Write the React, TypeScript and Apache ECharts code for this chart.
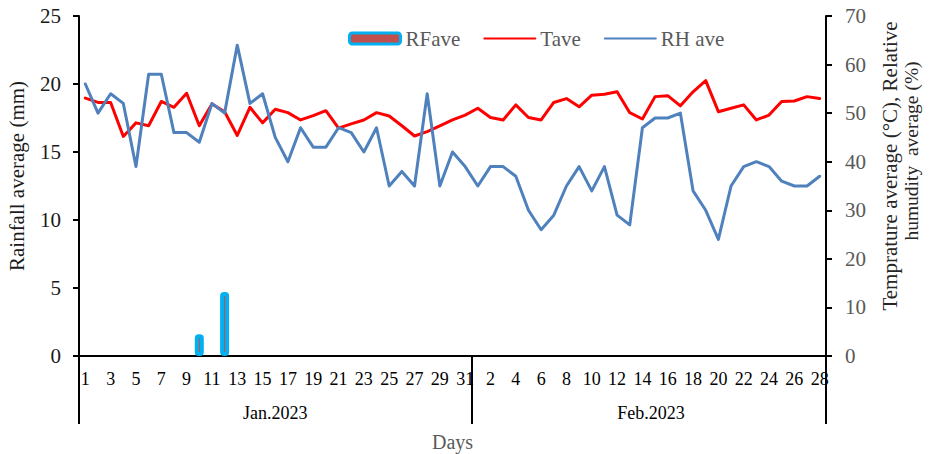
import React, { useEffect, useRef } from "react";
import * as echarts from "echarts";

const janDays = [1,2,3,4,5,6,7,8,9,10,11,12,13,14,15,16,17,18,19,20,21,22,23,24,25,26,27,28,29,30,31];
const febDays = [1,2,3,4,5,6,7,8,9,10,11,12,13,14,15,16,17,18,19,20,21,22,23,24,25,26,27,28];
const months = ["Jan.2023", "Feb.2023"];

const rainfall = [
  0,0,0,0,0,0,0,0,0,1.6,0,4.7,0,0,0,0,0,0,0,0,0,0,0,0,0,0,0,0,0,0,0,
  0,0,0,0,0,0,0,0,0,0,0,0,0,0,0,0,0,0,0,0,0,0,0,0,0,0,0,0,
];
const tave = [
  53.1,52.2,52.2,45.2,48.0,47.4,52.4,51.2,54.1,47.4,51.9,50.3,45.4,51.2,48.0,50.8,50.1,48.6,49.5,50.5,46.9,47.8,48.6,50.1,49.4,47.4,45.3,46.2,47.4,48.6,49.6,
  51.0,49.1,48.6,51.7,49.1,48.6,52.2,53.0,51.3,53.7,53.9,54.4,50.1,48.8,53.4,53.6,51.5,54.4,56.7,50.3,51.0,51.7,48.6,49.6,52.4,52.5,53.4,53.0,
];
const rhAve = [
  56,50,54,52,39,58,58,46,46,44,52,50,64,52,54,45,40,47,43,43,47,46,42,47,35,38,35,54,35,42,39,
  35,39,39,37,30,26,29,35,39,34,39,29,27,47,49,49,50,34,30,24,35,39,40,39,36,35,35,37,
];

const leftTicks = { min: 0, max: 25, interval: 5 };
const rightTicks = { min: 0, max: 70, interval: 10 };

const FONT = "'Liberation Serif', 'Times New Roman', serif";

export default function App() {
  const ref = useRef<HTMLDivElement>(null);
  useEffect(() => {
    if (!ref.current) return;
    const chart = echarts.init(ref.current, null, { renderer: "svg" });
    const categories = [...janDays.map(String), ...febDays.map(String)];
    const monthLengths = [janDays.length, febDays.length];
    const monthStarts = [0, janDays.length];
    const monthLabelIdx = monthStarts.map((s, i) => s + Math.floor(monthLengths[i] / 2));

    chart.setOption({
      animation: false,
      textStyle: { fontFamily: FONT },
      legend: {
        left: 343,
        top: 23,
        itemWidth: 51,
        itemHeight: 11,
        itemGap: 23,
        textStyle: { fontFamily: FONT, fontSize: 21, color: "#595959" },
        data: [
          { name: "RFave", itemStyle: { borderWidth: 3 } },
          { name: "Tave", itemStyle: { opacity: 0 } },
          { name: "RH ave", itemStyle: { opacity: 0 } },
        ],
      },
      grid: { left: 79, right: 107, top: 16, bottom: 98, containLabel: false, outerBoundsMode: "none" },
      xAxis: [
        {
          type: "category",
          data: categories,
          position: "bottom",
          boundaryGap: true,
          axisLine: { show: true, lineStyle: { color: "#000", width: 2 } },
          axisTick: { show: false },
          axisLabel: { interval: 1, color: "#000", fontSize: 18, fontFamily: FONT, margin: 14 },
        },
        {
          type: "category",
          data: categories,
          position: "bottom",
          boundaryGap: true,
          axisLine: { show: false },
          axisTick: {
            show: true,
            length: 68,
            interval: (i: number) => monthStarts.includes(i),
            lineStyle: { color: "#000", width: 2 },
          },
          axisLabel: {
            interval: 0,
            margin: 48,
            color: "#000",
            fontSize: 18,
            fontFamily: FONT,
            formatter: (_v: string, i: number) => {
              const k = monthLabelIdx.indexOf(i);
              if (k < 0) return "";
              return k === 1 ? "{f|" + months[k] + "}" : months[k];
            },
            rich: { f: { fontSize: 18, fontFamily: FONT, color: "#000", padding: [0, 8, 0, 0] } },
          },
          name: "Days",
          nameLocation: "middle",
          nameGap: 76,
          nameTextStyle: { fontSize: 20, color: "#595959", fontFamily: FONT },
        },
      ],
      yAxis: [
        {
          type: "value",
          ...leftTicks,
          position: "left",
          splitLine: { show: false },
          axisLine: { show: true, lineStyle: { color: "#000", width: 2 } },
          axisTick: { show: true, length: 6, lineStyle: { color: "#000", width: 2 } },
          axisLabel: { color: "#1a1a1a", fontSize: 21, fontFamily: FONT, margin: 18 },
        },
        {
          type: "value",
          ...rightTicks,
          position: "right",
          splitLine: { show: false },
          axisLine: { show: true, lineStyle: { color: "#000", width: 2 } },
          axisTick: { show: true, length: 6, lineStyle: { color: "#000", width: 2 } },
          axisLabel: { color: "#595959", fontSize: 21, fontFamily: FONT, margin: 19 },
        },
      ],
      graphic: [
        {
          type: "text",
          x: 17,
          y: 176,
          rotation: Math.PI / 2,
          style: {
            text: "Rainfall average (mm)",
            fontSize: 21,
            fontFamily: FONT,
            fill: "#1a1a1a",
            align: "center",
            verticalAlign: "middle",
          },
        },
        {
          type: "text",
          x: 890,
          y: 166,
          rotation: Math.PI / 2,
          style: {
            text: "Temprature average (°C), Relative",
            fontSize: 21,
            fontFamily: FONT,
            fill: "#262626",
            align: "center",
            verticalAlign: "middle",
          },
        },
        {
          type: "text",
          x: 911,
          y: 151,
          rotation: Math.PI / 2,
          style: {
            text: "humudity  average (%)",
            fontSize: 19.5,
            fontFamily: FONT,
            fill: "#262626",
            align: "center",
            verticalAlign: "middle",
          },
        },
      ],
      series: [
        {
          name: "RFave",
          type: "bar",
          xAxisIndex: 0,
          yAxisIndex: 0,
          barWidth: 9,
          data: rainfall.map((v) => (v > 0 ? v : null)),
          itemStyle: { color: "#C0504D", borderColor: "#00B0F0", borderWidth: 4, borderRadius: 2 },
        },
        {
          name: "Tave",
          type: "line",
          xAxisIndex: 0,
          yAxisIndex: 1,
          data: tave,
          symbol: "none",
          lineStyle: { color: "#FF0000", width: 3, join: "round", cap: "round" },
          itemStyle: { color: "#FF0000" },
        },
        {
          name: "RH ave",
          type: "line",
          xAxisIndex: 0,
          yAxisIndex: 1,
          data: rhAve,
          symbol: "none",
          lineStyle: { color: "#4F81BD", width: 3, join: "round", cap: "round" },
          itemStyle: { color: "#4F81BD" },
        },
      ],
    });
    return () => chart.dispose();
  }, []);
  return (
    <div
      ref={ref}
      style={{ position: "fixed", left: 0, top: 0, width: 933, height: 454, background: "#fff" }}
    />
  );
}
